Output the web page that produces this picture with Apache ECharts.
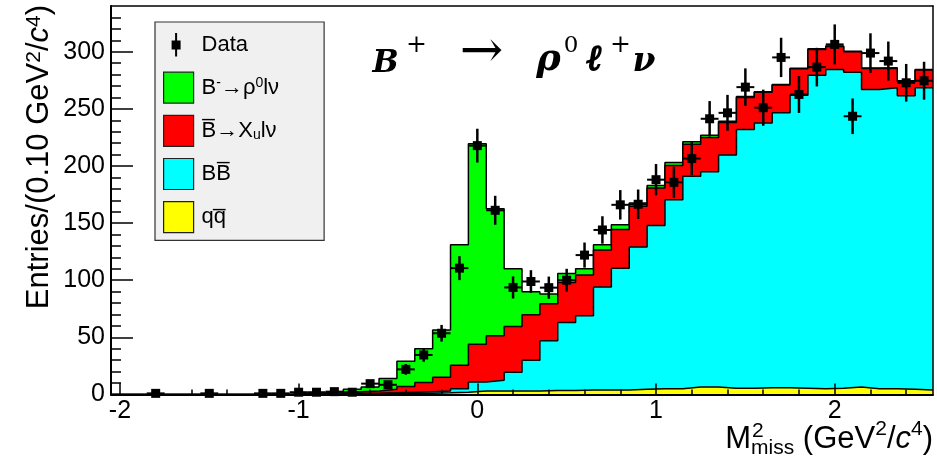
<!DOCTYPE html>
<html><head><meta charset="utf-8">
<script src="https://cdn.jsdelivr.net/npm/echarts@6/dist/echarts.min.js"></script>
<style>html,body{margin:0;padding:0;background:#fff}#c{width:937px;height:459px}</style>
</head><body><div id="c"></div>
<script>
// ---- data ----
const binCenters = [-2.0,-1.9,-1.8,-1.7,-1.6,-1.5,-1.4,-1.3,-1.2,-1.1,-1.0,-0.9,-0.8,-0.7,-0.6,-0.5,-0.4,-0.3,-0.2,-0.1,
  0.0,0.1,0.2,0.3,0.4,0.5,0.6,0.7,0.8,0.9,1.0,1.1,1.2,1.3,1.4,1.5,1.6,1.7,1.8,1.9,2.0,2.1,2.2,2.3,2.4,2.5];
const dataCounts = [null,null,1,null,null,1,null,null,1,1,2,2,2.5,2,9.5,8.5,22,34.6,53.6,110.6,
  217.8,161.2,93.7,98.9,93.5,100,122,144,166,166.5,188,185.7,206.5,241.3,246.5,269,251,295,262.6,286.5,306.4,243.5,298.8,291.8,272.8,274.6];
const dataErrors = [null,null,1,null,null,1,null,null,1,1,1.4,1.4,1.6,1.4,3.1,2.9,4.7,5.9,7.3,10.5,
  14.8,12.7,9.7,9.9,9.7,10,11,12,12.9,12.9,13.7,13.6,14.4,15.5,15.7,16.4,15.8,17.2,16.2,16.9,17.5,15.6,17.3,17.1,16.5,16.6];
const qqBkg = [0,0,0,0,0,0,0,0,0,0,0,0.2,0.3,0.5,0.6,0.8,1,1.2,1.5,2,
  3,3,3,3,3.5,3.5,4,4,4,4.5,5,5,6.5,6.5,5.5,5.5,6,6,5.5,5,5.5,6.5,5,5,4.5,4];
const bbBkg = [0,0,0,0,0,0,0,0,0,0,0.3,0.2,0.3,0.5,0.6,0.7,1,1.3,1.5,3,
  8,9.5,16.5,27,43.5,59.5,65,90,106.5,124.5,143,165.5,184.5,188.5,204,226.5,231.7,240.5,256.5,274.5,279,275.5,262,263.5,257,264.5];
const xulnuBkg = [0,0,0,0,0,0,0,0,0,0,0.3,0.4,0.9,1.5,1.8,3,5,8,12,20.5,
  33,39,40,39.7,32.5,35,35.5,32.5,34,35.8,32.7,30,28,30,28.5,28,26.8,24.3,23,22.5,20,18,18.3,17,12.5,15.5];
const rholnuSig = [0,0,0,0,0,0,0,0,0,0,0.4,0.7,1,2,3.5,9.5,22,29.5,41.5,105.5,
  175.5,111,50.5,20.3,8.5,8,5.5,4.5,4,2.7,2.3,2.5,2.3,1.8,1.2,0.8,0.5,0.5,0.5,0.5,0.5,0.5,0.5,0.5,0.5,0.5];
const xMajorTicks = [-2,-1,0,1,2];
const xMinorTicks = [-1.8,-1.6,-1.4,-1.2,-0.8,-0.6,-0.4,-0.2,0.2,0.4,0.6,0.8,1.2,1.4,1.6,1.8,2.2,2.4];
const yMajorTicks = [0,50,100,150,200,250,300];
const yMinorTicks = [10,20,30,40,60,70,80,90,110,120,130,140,160,170,180,190,210,220,230,240,260,270,280,290,310,320,330];

const FONT = 'Liberation Sans';
const X_MIN = -2.05, X_MAX = 2.55, Y_MIN = 0, Y_MAX = 340, HALF = 0.05;

// stack the components (bottom to top: qq, BB, Xu, rho)
const layers = [qqBkg, bbBkg, xulnuBkg, rholnuSig];
const tops = [];
let run = binCenters.map(() => 0);
layers.forEach(arr => { run = run.map((v, i) => v + arr[i]); tops.push(run.slice()); });

function stepData(vals) {
  const d = binCenters.map((c, i) => [+(c - HALF).toFixed(3), vals[i]]);
  d.push([+(binCenters[binCenters.length - 1] + HALF).toFixed(3), vals[vals.length - 1]]);
  return d;
}
function histSeries(name, vals, color, z) {
  return {
    name, type: 'line', step: 'end', data: stepData(vals),
    symbol: 'none', showSymbol: false, animation: false, z: z,
    lineStyle: { color: '#000', width: 1.5 },
    areaStyle: { color, opacity: 1, origin: 'start' },
    itemStyle: { color }
  };
}
const pts = [];
binCenters.forEach((c, i) => { if (dataCounts[i] !== null) pts.push([c, dataCounts[i], dataErrors[i]]); });

const chart = echarts.init(document.getElementById('c'), null, { renderer: 'canvas' });
const axisBase = { type: 'value', min: X_MIN, max: X_MAX, splitLine: { show: false }, z: 10 };
const yBase = { type: 'value', min: Y_MIN, max: Y_MAX, splitLine: { show: false }, z: 10 };
const dataIcon = 'path://M0,0 M30,31 M11.5,3.5 L13.5,3.5 L13.5,11 L17,11 L17,20 L13.5,20 L13.5,27 L11.5,27 L11.5,20 L8,20 L8,11 L11.5,11 Z';
const serifB = { fontFamily: 'DejaVu Serif', fontStyle: 'italic', fontWeight: 'bold', lineHeight: 40, verticalAlign: 'bottom', fill: '#000' };
const serifSup = { fontFamily: 'DejaVu Serif', lineHeight: 22, padding: [0, 0, 21, 0], verticalAlign: 'bottom', align: 'center', fill: '#000' };

chart.setOption({
  animation: false,
  backgroundColor: '#fff',
  grid: { left: 111, right: 4, top: 6, bottom: 64.5, show: false },
  xAxis: [
    Object.assign({}, axisBase, {
      position: 'bottom',
      axisLine: { show: true, onZero: false, lineStyle: { color: '#000', width: 2 } },
      axisTick: { show: true, inside: true, length: 11, customValues: xMajorTicks, lineStyle: { color: '#000', width: 1.5 } },
      axisLabel: { show: true, customValues: xMajorTicks, color: '#000', fontFamily: FONT, fontSize: 25, margin: 4 }
    }),
    Object.assign({}, axisBase, {
      position: 'bottom',
      axisLine: { show: false, onZero: false },
      axisTick: { show: true, inside: true, length: 5, customValues: xMinorTicks, lineStyle: { color: '#000', width: 1.5 } },
      axisLabel: { show: false }
    }),
    Object.assign({}, axisBase, {
      position: 'top',
      axisLine: { show: true, onZero: false, lineStyle: { color: '#000', width: 1.5 } },
      axisTick: { show: false }, axisLabel: { show: false }
    })
  ],
  yAxis: [
    Object.assign({}, yBase, {
      position: 'left',
      axisLine: { show: true, onZero: false, lineStyle: { color: '#000', width: 2 } },
      axisTick: { show: true, inside: true, length: 22, customValues: yMajorTicks, lineStyle: { color: '#000', width: 1.5 } },
      axisLabel: { show: true, customValues: yMajorTicks, color: '#000', fontFamily: FONT, fontSize: 25, margin: 6 }
    }),
    Object.assign({}, yBase, {
      position: 'left',
      axisLine: { show: false, onZero: false },
      axisTick: { show: true, inside: true, length: 10, customValues: yMinorTicks, lineStyle: { color: '#000', width: 1.5 } },
      axisLabel: { show: false }
    }),
    Object.assign({}, yBase, {
      position: 'right',
      axisLine: { show: true, onZero: false, lineStyle: { color: '#000', width: 1.5 } },
      axisTick: { show: false }, axisLabel: { show: false }
    })
  ],
  legend: {
    left: 155, top: 22, orient: 'vertical',
    itemWidth: 30, itemHeight: 31, itemGap: 11,
    padding: [7.5, 45, 7, 8],
    backgroundColor: '#f0f0f0', borderColor: '#333', borderWidth: 1.2,
    selectedMode: false,
    textStyle: {
      fontFamily: FONT, fontSize: 22, color: '#000', padding: [0, 0, 0, 3],
      rich: {
        sup: { fontFamily: FONT, fontSize: 14, verticalAlign: 'top', color: '#000' },
        sub: { fontFamily: FONT, fontSize: 14, verticalAlign: 'bottom', color: '#000' }
      }
    },
    formatter: function (n) {
      return {
        'Data': 'Data',
        'rho': 'B{sup|-}\u2192\u03C1{sup|0}l\u03BD',
        'xu': 'B\u0305\u2192X{sub|u}l\u03BD',
        'bb': 'BB\u0305',
        'qq': 'qq\u0305'
      }[n];
    },
    data: [
      { name: 'Data', icon: dataIcon, itemStyle: { color: '#000', borderWidth: 0 } },
      { name: 'rho', icon: 'rect', itemStyle: { color: '#00ff00', borderColor: '#222', borderWidth: 1.2 } },
      { name: 'xu', icon: 'rect', itemStyle: { color: '#ff0000', borderColor: '#222', borderWidth: 1.2 } },
      { name: 'bb', icon: 'rect', itemStyle: { color: '#00ffff', borderColor: '#222', borderWidth: 1.2 } },
      { name: 'qq', icon: 'rect', itemStyle: { color: '#ffff00', borderColor: '#222', borderWidth: 1.2 } }
    ]
  },
  graphic: [
    {
      type: 'text', x: 366, y: 79, z: 20,
      style: {
        text: '{b1|B}{sp1|+}{ar|\u2192}{b2|\u03C1}{sp2|0}{b3|\u2113}{sp3|+}{b4|\u03BD}',
        align: 'left', verticalAlign: 'bottom',
        rich: {
          b1: Object.assign({}, serifB, { fontSize: 31, width: 39, align: 'center' }),
          sp1: Object.assign({}, serifSup, { fontSize: 25, width: 23 }),
          ar: { fontFamily: 'DejaVu Serif', fontSize: 52, lineHeight: 34, verticalAlign: 'bottom', width: 107, align: 'center', fill: '#000' },
          b2: Object.assign({}, serifB, { fontSize: 37, width: 27, align: 'right' }),
          sp2: Object.assign({}, serifSup, { fontSize: 23, width: 18 }),
          b3: Object.assign({}, serifB, { fontFamily: 'Liberation Serif', fontSize: 36, width: 29, align: 'center', stroke: '#000', lineWidth: 1.6 }),
          sp3: Object.assign({}, serifSup, { fontSize: 25, width: 23 }),
          b4: Object.assign({}, serifB, { fontSize: 33, width: 24, align: 'center' })
        }
      }
    },
    {
      type: 'text', x: 39, y: 5, rotation: Math.PI / 2, z: 20,
      style: {
        text: 'Entries/(0.10 GeV{sup|2}/{it|c}{sup|4})',
        align: 'right', verticalAlign: 'middle',
        fontFamily: FONT, fontSize: 31, fill: '#000',
        rich: {
          sup: { fontFamily: FONT, fontSize: 21, verticalAlign: 'top', fill: '#000' },
          it: { fontFamily: FONT, fontStyle: 'italic', fontSize: 31, fill: '#000' }
        }
      }
    },
    {
      type: 'text', x: 933, y: 459, z: 20,
      style: {
        text: 'M{sub|miss} (GeV{sup|2}/{it|c}{sup|4})',
        align: 'right', verticalAlign: 'bottom',
        fontFamily: FONT, fontSize: 31, fill: '#000', lineHeight: 40,
        rich: {
          sup: { fontFamily: FONT, fontSize: 21, verticalAlign: 'top', fill: '#000' },
          sub: { fontFamily: FONT, fontSize: 21, verticalAlign: 'bottom', fill: '#000' },
          it: { fontFamily: FONT, fontStyle: 'italic', fontSize: 31, fill: '#000' }
        }
      }
    },
    {
      type: 'text', x: 752, y: 421, z: 20,
      style: { text: '2', fontFamily: FONT, fontSize: 21, fill: '#000', align: 'left', verticalAlign: 'top' }
    }
  ],
  series: [
    histSeries('rho', tops[3], '#00ff00', 2),
    histSeries('xu', tops[2], '#ff0000', 3),
    histSeries('bb', tops[1], '#00ffff', 4),
    histSeries('qq', tops[0], '#ffff00', 5),
    {
      name: 'Data', type: 'custom', data: pts, z: 6, animation: false,
      itemStyle: { color: '#000' },
      encode: { x: 0, y: 1 },
      renderItem: function (params, api) {
        const x = api.value(0), y = api.value(1), e = api.value(2);
        const c = api.coord([x, y]);
        const t = api.coord([x, y + e]);
        const b = api.coord([x, Math.max(0, y - e)]);
        const l = api.coord([x - HALF, y]);
        const r = api.coord([x + HALF, y]);
        const s = 4.5;
        return {
          type: 'group', children: [
            { type: 'line', shape: { x1: c[0], y1: t[1], x2: c[0], y2: b[1] }, style: { stroke: '#000', lineWidth: 2.5 } },
            { type: 'line', shape: { x1: l[0], y1: c[1], x2: r[0], y2: c[1] }, style: { stroke: '#000', lineWidth: 2 } },
            { type: 'rect', shape: { x: c[0] - s, y: c[1] - s, width: 2 * s, height: 2 * s }, style: { fill: '#000' } }
          ]
        };
      }
    }
  ]
});
</script></body></html>
